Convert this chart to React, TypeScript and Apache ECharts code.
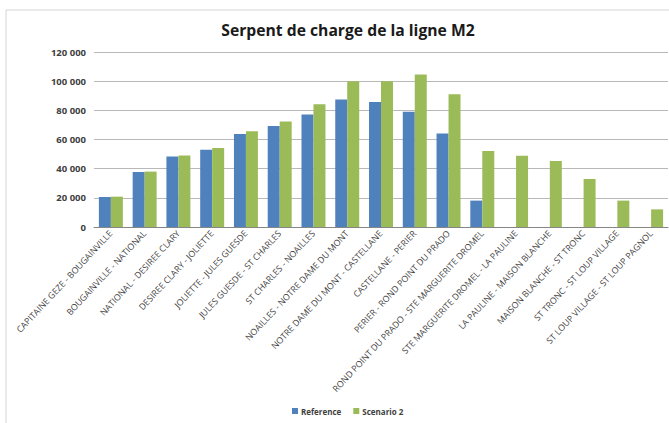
import React, { useEffect, useRef } from "react";
import * as echarts from "echarts";

const categories = [
  "CAPITAINE GEZE - BOUGAINVILLE",
  "BOUGAINVILLE - NATIONAL",
  "NATIONAL - DESIREE CLARY",
  "DESIREE CLARY - JOLIETTE",
  "JOLIETTE - JULES GUESDE",
  "JULES GUESDE - ST CHARLES",
  "ST CHARLES - NOAILLES",
  "NOAILLES - NOTRE DAME DU MONT",
  "NOTRE DAME DU MONT - CASTELLANE",
  "CASTELLANE - PERIER",
  "PERIER - ROND POINT DU PRADO",
  "ROND POINT DU PRADO - STE MARGUERITE DROMEL",
  "STE MARGUERITE DROMEL - LA PAULINE",
  "LA PAULINE - MAISON BLANCHE",
  "MAISON BLANCHE - ST TRONC",
  "ST TRONC - ST LOUP VILLAGE",
  "ST LOUP VILLAGE - ST LOUP PAGNOL",
];

const referenceValues = [
  20600, 37700, 48400, 53000, 63800, 69300, 77200, 87500, 85700, 79100, 64200,
  18100, null, null, null, null, null,
];

const scenario2Values = [
  20800, 38000, 49000, 54100, 65600, 72300, 84100, 100000, 99900, 104500, 91000,
  52100, 48900, 45300, 32900, 18100, 12100,
];

const seriesNames = ["Reference", "Scenario 2"];
const yTicks = { min: 0, max: 120000, interval: 20000 };

const fmt = (v: number) =>
  String(v).replace(/\B(?=(\d{3})+(?!\d))/g, " ");

export default function App() {
  const ref = useRef<HTMLDivElement>(null);
  useEffect(() => {
    if (!ref.current) return;
    const chart = echarts.init(ref.current, undefined, { renderer: "svg" });
    const font = "Open Sans, Liberation Sans, sans-serif";
    chart.setOption({
      animation: false,
      backgroundColor: "#ffffff",
      color: ["#4F81BD", "#9BBB59"],
      title: {
        text: "Serpent de charge de la ligne M2",
        left: 343,
        top: 17,
        textAlign: "center",
        textStyle: {
          fontFamily: font,
          fontSize: 15.7,
          fontWeight: "bold",
          color: "#1a1a1a",
        },
      },
      graphic: [
        {
          type: "rect",
          shape: { x: 6, y: 10, width: 700, height: 450 },
          style: { fill: "none", stroke: "#d4d4d4", lineWidth: 1 },
          silent: true,
        },
      ],
      legend: {
        data: seriesNames,
        bottom: 3,
        left: 287,
        itemWidth: 6,
        itemHeight: 6,
        itemGap: 12,
        icon: "rect",
        textStyle: {
          fontFamily: font,
          fontSize: 8,
          fontWeight: "bold",
          color: "#404040",
          padding: [0, 0, 0, -2],
        },
      },
      grid: { left: 94, right: 1, top: 52, bottom: 196, containLabel: false },
      xAxis: {
        type: "category",
        data: categories,
        axisTick: { show: false },
        axisLine: { lineStyle: { color: "#868686" } },
        axisLabel: {
          interval: 0,
          rotate: 47,
          margin: 5,
          fontFamily: font,
          fontSize: 8.8,
          color: "#404040",
        },
      },
      yAxis: {
        type: "value",
        min: yTicks.min,
        max: yTicks.max,
        interval: yTicks.interval,
        axisLine: { show: false },
        axisTick: { show: false },
        splitLine: { lineStyle: { color: "#b8b8b8", width: 1 } },
        axisLabel: {
          margin: 8,
          fontFamily: font,
          fontSize: 9.5,
          fontWeight: "bold",
          color: "#404040",
          formatter: (v: number) => fmt(v),
        },
      },
      series: [
        {
          name: seriesNames[0],
          type: "bar",
          data: referenceValues,
          barGap: "0%",
          barCategoryGap: "29%",
        },
        {
          name: seriesNames[1],
          type: "bar",
          data: scenario2Values,
          barGap: "0%",
          barCategoryGap: "29%",
        },
      ],
    });
    return () => chart.dispose();
  }, []);
  return (
    <div
      ref={ref}
      style={{ position: "absolute", left: 0, top: 0, width: 669, height: 423 }}
    />
  );
}
